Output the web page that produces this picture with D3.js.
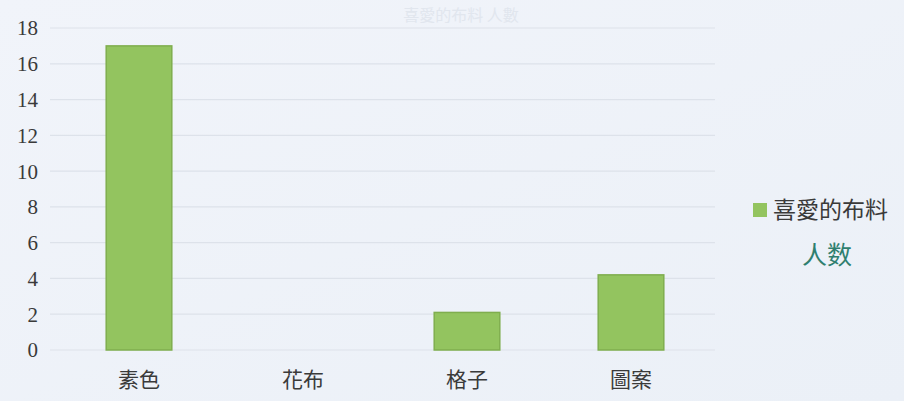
<!DOCTYPE html>
<html><head><meta charset="utf-8">
<script src="https://cdn.jsdelivr.net/npm/d3@7"></script>
<style>
html,body{margin:0;padding:0;background:#eef2f8;}
svg{display:block;}
</style></head>
<body>
<svg id="chart" width="904" height="401"></svg>
<script>
const categories = ["素色", "花布", "格子", "圖案"];
const values = [17, 0, 2.1, 4.2];
const yTicks = [0, 2, 4, 6, 8, 10, 12, 14, 16, 18];
const seriesName = "喜愛的布料";
const titleText = "喜愛的布料 人數";
const note = "人数";

const svg = d3.select("#chart");
const W = 904, H = 401;
const m = {left: 56, right: 192, top: 28, bottom: 51};

const defs = svg.append("defs");
const g0 = defs.append("linearGradient").attr("id","bg").attr("x1",0).attr("y1",0).attr("x2",1).attr("y2",1);
g0.append("stop").attr("offset","0%").attr("stop-color","#f1f4fa");
g0.append("stop").attr("offset","100%").attr("stop-color","#ebf0f7");
svg.append("rect").attr("width",W).attr("height",H).attr("fill","url(#bg)");

const x = d3.scaleBand().domain(categories).range([m.left, 712]).paddingInner(0.6).paddingOuter(0.3);
const y = d3.scaleLinear().domain([0, 18]).range([350, 28]);

// faint title
svg.append("text").attr("x", 461).attr("y", 21).attr("text-anchor","middle")
  .attr("font-family","Noto Sans CJK TC").attr("font-size",16).attr("fill","#e1e6ee")
  .text(titleText);

// gridlines
svg.append("g").selectAll("line").data(yTicks).join("line")
  .attr("x1", 50).attr("x2", 715)
  .attr("y1", d => y(d)).attr("y2", d => y(d))
  .attr("stroke", "#dde2ea").attr("stroke-width", 1.2);

// y axis labels
const yAxis = d3.axisLeft(y).tickValues(yTicks).tickSize(0).tickPadding(0);
const ya = svg.append("g").attr("transform","translate(38,0)").call(yAxis);
ya.select(".domain").remove();
ya.selectAll("text").attr("font-family","Liberation Serif, DejaVu Serif, serif")
  .attr("font-size",21).attr("fill","#3a3a3a").attr("dy","0.33em");

// bars
svg.append("g").selectAll("rect").data(values).join("rect")
  .attr("x", (d,i) => x(categories[i]) + 1)
  .attr("width", x.bandwidth())
  .attr("y", d => y(d))
  .attr("height", d => y(0) - y(d))
  .attr("fill", "#93c45f")
  .attr("stroke", "#7fae4e").attr("stroke-width", 1.5)
  .attr("opacity", d => d > 0 ? 1 : 0);

// x axis labels
const xAxis = d3.axisBottom(x).tickSize(0).tickPadding(0);
const xa = svg.append("g").attr("transform","translate(1,378)").call(xAxis);
xa.select(".domain").remove();
xa.selectAll("text").attr("font-family","Noto Sans CJK TC").attr("font-size",21)
  .attr("fill","#3a3a3a").attr("dy","0.45em");

// legend
svg.append("rect").attr("x",753).attr("y",203).attr("width",14).attr("height",14).attr("fill","#93c45f");
svg.append("text").attr("x",773).attr("y",218).attr("font-family","Noto Sans CJK TC")
  .attr("font-size",23).attr("fill","#3a3a3a").text(seriesName);

// handwritten note
svg.append("text").attr("x",827).attr("y",264).attr("text-anchor","middle")
  .attr("font-family","Noto Sans CJK SC").attr("font-size",25).attr("fill","#2f7f6f")
  .text(note);
</script>
</body></html>
